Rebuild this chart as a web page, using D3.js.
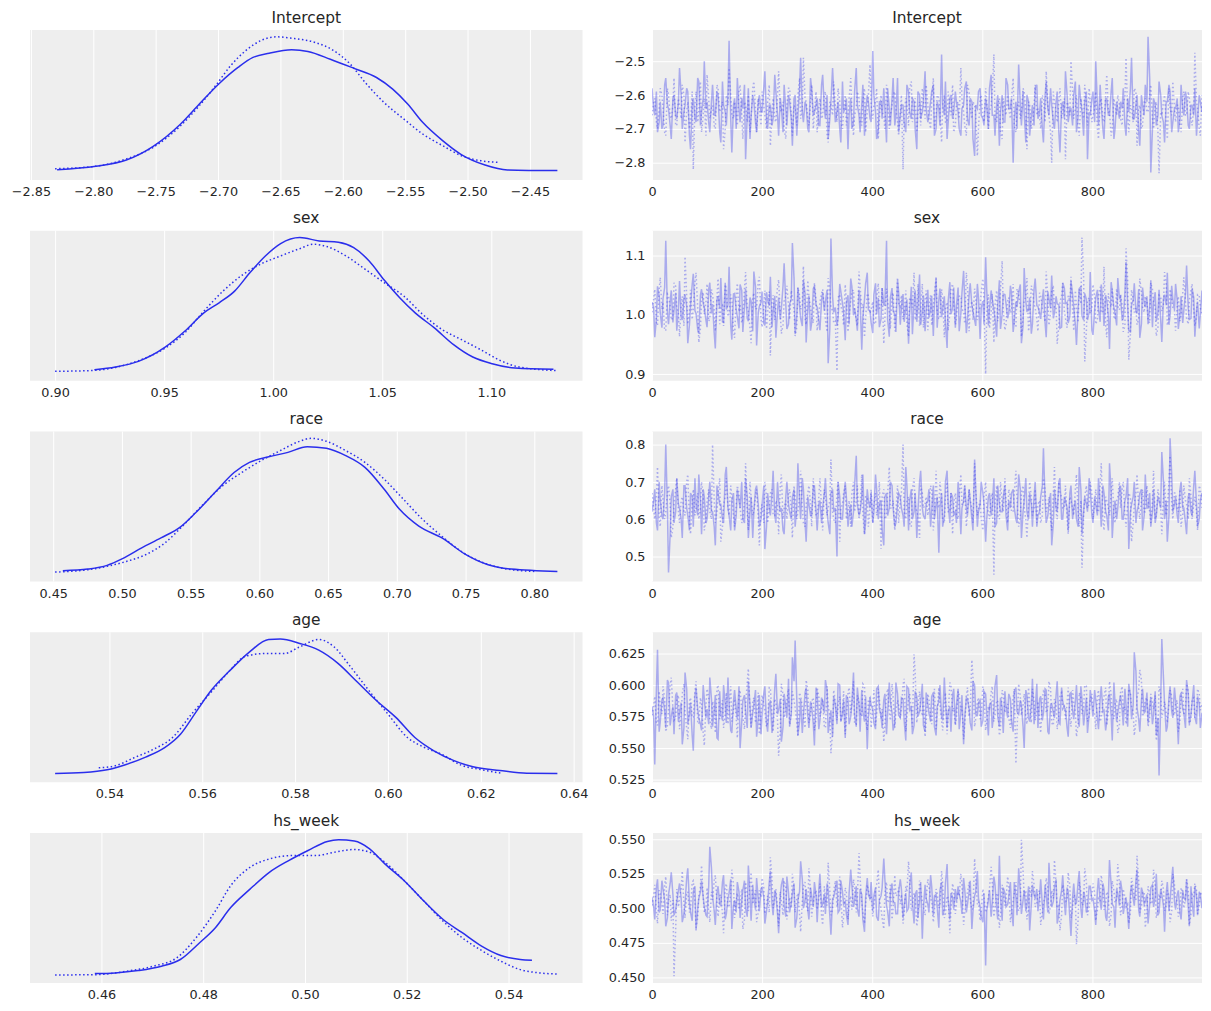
<!DOCTYPE html>
<html><head><meta charset="utf-8">
<script src="https://cdn.jsdelivr.net/npm/d3@7"></script>
<style>body{margin:0;background:#fff}text{font-family:"DejaVu Sans",sans-serif}</style>
</head><body><svg id="c" width="1211" height="1011"></svg>
<script>
// ---------- KDE curves (x value, relative density) ----------
const interceptKdeX0 = [-2.829,-2.798,-2.7735,-2.752,-2.730,-2.715,-2.699,-2.684,-2.672,-2.659,-2.641,-2.628,-2.610,-2.591,-2.573,-2.560,-2.548,-2.536,-2.520,-2.505,-2.486,-2.468,-2.428];
const interceptKdeY0 = [0.026,0.051,0.097,0.198,0.363,0.510,0.662,0.780,0.854,0.885,0.910,0.898,0.841,0.773,0.706,0.620,0.510,0.375,0.240,0.137,0.060,0.024,0.019];
const interceptKdeX1 = [-2.8306,-2.798,-2.7735,-2.752,-2.730,-2.715,-2.702,-2.690,-2.678,-2.665,-2.653,-2.641,-2.622,-2.607,-2.594,-2.582,-2.567,-2.551,-2.536,-2.520,-2.505,-2.4895,-2.4747];
const interceptKdeY1 = [0.033,0.051,0.105,0.191,0.350,0.498,0.645,0.792,0.903,0.981,1.006,0.996,0.964,0.903,0.804,0.669,0.522,0.399,0.289,0.203,0.129,0.092,0.080];

const sexKdeX0 = [0.918,0.9277,0.9382,0.9506,0.9594,0.9682,0.9752,0.9823,0.9893,0.9964,1.0034,1.0122,1.0211,1.0299,1.0369,1.044,1.051,1.058,1.0651,1.0739,1.0827,1.0915,1.1004,1.1109,1.1285];
const sexKdeY0 = [0.031,0.051,0.092,0.198,0.313,0.448,0.522,0.608,0.743,0.866,0.957,1.001,0.976,0.966,0.927,0.829,0.687,0.559,0.448,0.338,0.215,0.124,0.075,0.043,0.034];
const sexKdeX1 = [0.90,0.918,0.9277,0.9382,0.9506,0.9594,0.9682,0.977,0.9858,0.9946,1.0034,1.0122,1.0184,1.0246,1.0334,1.0422,1.051,1.0599,1.0686,1.0774,1.0863,1.0951,1.1039,1.1127,1.1303];
const sexKdeY1 = [0.019,0.026,0.048,0.097,0.191,0.301,0.461,0.608,0.726,0.809,0.866,0.920,0.952,0.935,0.866,0.768,0.669,0.571,0.436,0.326,0.252,0.178,0.100,0.051,0.024];

const raceKdeX0 = [0.457,0.4752,0.4892,0.5004,0.5144,0.5284,0.5424,0.5536,0.5676,0.5816,0.5928,0.6068,0.6208,0.6348,0.6488,0.6628,0.6768,0.6908,0.702,0.716,0.7328,0.7496,0.7664,0.7832,0.8168];
const raceKdeY0 = [0.029,0.041,0.068,0.117,0.196,0.269,0.348,0.453,0.601,0.748,0.822,0.863,0.895,0.937,0.925,0.871,0.785,0.625,0.478,0.355,0.269,0.151,0.073,0.041,0.024];
const raceKdeX1 = [0.4514,0.4752,0.4892,0.5032,0.5172,0.5312,0.5452,0.5592,0.5732,0.5872,0.6012,0.6152,0.6292,0.6376,0.6488,0.6628,0.6768,0.6908,0.7048,0.7188,0.7328,0.7468,0.7636,0.7804,0.80];
const raceKdeY1 = [0.019,0.036,0.061,0.097,0.146,0.232,0.367,0.515,0.650,0.748,0.834,0.908,0.976,0.998,0.976,0.908,0.822,0.699,0.552,0.404,0.281,0.171,0.085,0.041,0.024];

const ageKdeX0 = [0.5283,0.5345,0.5395,0.5436,0.5478,0.5519,0.5553,0.5586,0.5619,0.566,0.5702,0.5743,0.5768,0.581,0.5851,0.5893,0.5934,0.5975,0.6017,0.6058,0.61,0.6141,0.6183,0.6241,0.6299,0.6365];
const ageKdeY0 = [0.014,0.021,0.041,0.080,0.134,0.203,0.301,0.461,0.620,0.768,0.903,0.993,0.996,0.964,0.915,0.817,0.682,0.547,0.424,0.277,0.178,0.110,0.063,0.036,0.016,0.014];
const ageKdeX1 = [0.5377,0.5412,0.5453,0.5495,0.5536,0.5577,0.5619,0.566,0.5693,0.5735,0.5776,0.581,0.5851,0.5884,0.5917,0.5959,0.60,0.6042,0.6075,0.6116,0.6158,0.6199,0.6245];
const ageKdeY1 = [0.056,0.070,0.129,0.191,0.277,0.448,0.608,0.768,0.871,0.890,0.890,0.939,0.993,0.939,0.804,0.620,0.448,0.277,0.210,0.154,0.075,0.043,0.016];

const hsweekKdeX0 = [0.4587,0.4627,0.4672,0.4718,0.4755,0.4793,0.4824,0.4854,0.4892,0.493,0.4968,0.5006,0.5044,0.5066,0.5097,0.5127,0.5157,0.5195,0.5233,0.5271,0.5309,0.5347,0.5385,0.5423,0.5446];
const hsweekKdeY0 = [0.019,0.024,0.041,0.073,0.122,0.245,0.355,0.502,0.637,0.760,0.846,0.920,0.986,0.998,0.989,0.932,0.822,0.699,0.552,0.417,0.318,0.220,0.151,0.122,0.117];
const hsweekKdeX1 = [0.4509,0.4589,0.4649,0.4702,0.4748,0.4786,0.4824,0.4854,0.4892,0.493,0.4975,0.5021,0.5059,0.5097,0.5127,0.5157,0.5195,0.5233,0.5271,0.5309,0.5347,0.5385,0.5423,0.5461,0.5496];
const hsweekKdeY1 = [0.009,0.011,0.036,0.073,0.134,0.281,0.478,0.662,0.797,0.858,0.883,0.883,0.908,0.927,0.908,0.834,0.699,0.552,0.404,0.281,0.188,0.110,0.048,0.024,0.016];

// ---------- Trace samples: "A" = even sub-draws, "B" = the sub-draws in between (200 each per chain) ----------
const interceptChain0A = [
-2.58,-2.66,-2.71,-2.62,-2.69,-2.55,-2.64,-2.73,-2.60,-2.67,
-2.52,-2.70,-2.63,-2.59,-2.76,-2.61,-2.68,-2.56,-2.65,-2.50,
-2.62,-2.71,-2.57,-2.66,-2.60,-2.74,-2.63,-2.69,-2.44,-2.77,
-2.61,-2.55,-2.68,-2.64,-2.79,-2.58,-2.66,-2.62,-2.71,-2.60,
-2.65,-2.53,-2.70,-2.63,-2.67,-2.59,-2.72,-2.64,-2.57,-2.69,
-2.62,-2.75,-2.60,-2.66,-2.49,-2.68,-2.63,-2.71,-2.58,-2.65,
-2.61,-2.69,-2.54,-2.67,-2.73,-2.62,-2.59,-2.65,-2.70,-2.56,
-2.64,-2.76,-2.61,-2.68,-2.52,-2.66,-2.63,-2.72,-2.60,-2.67,
-2.47,-2.65,-2.70,-2.62,-2.58,-2.74,-2.64,-2.61,-2.69,-2.55,
-2.66,-2.63,-2.71,-2.59,-2.67,-2.62,-2.76,-2.60,-2.65,-2.53,
-2.68,-2.62,-2.57,-2.70,-2.64,-2.48,-2.66,-2.73,-2.61,-2.67,
-2.59,-2.65,-2.72,-2.63,-2.56,-2.69,-2.62,-2.78,-2.64,-2.58,
-2.67,-2.61,-2.70,-2.54,-2.66,-2.63,-2.75,-2.60,-2.68,-2.57,
-2.64,-2.80,-2.62,-2.51,-2.69,-2.65,-2.60,-2.72,-2.63,-2.58,
-2.67,-2.61,-2.74,-2.56,-2.66,-2.63,-2.70,-2.59,-2.77,-2.62,
-2.53,-2.68,-2.64,-2.60,-2.71,-2.57,-2.65,-2.62,-2.79,-2.66,
-2.59,-2.50,-2.69,-2.63,-2.73,-2.61,-2.66,-2.55,-2.70,-2.64,
-2.62,-2.58,-2.72,-2.65,-2.49,-2.67,-2.60,-2.75,-2.63,-2.57,
-2.428,-2.829,-2.61,-2.69,-2.56,-2.66,-2.74,-2.62,-2.59,-2.68,
-2.64,-2.71,-2.57,-2.66,-2.61,-2.70,-2.63,-2.58,-2.67,-2.62];
const interceptChain0B = [
-2.64,-2.59,-2.68,-2.70,-2.57,-2.63,-2.69,-2.61,-2.66,-2.62,
-2.60,-2.65,-2.58,-2.72,-2.63,-2.67,-2.55,-2.69,-2.61,-2.64,
-2.68,-2.62,-2.66,-2.59,-2.71,-2.56,-2.65,-2.60,-2.67,-2.63,
-2.70,-2.64,-2.61,-2.57,-2.66,-2.73,-2.60,-2.68,-2.62,-2.65,
-2.58,-2.67,-2.63,-2.69,-2.54,-2.66,-2.61,-2.71,-2.64,-2.60,
-2.67,-2.61,-2.72,-2.58,-2.65,-2.62,-2.70,-2.55,-2.66,-2.63,
-2.69,-2.57,-2.64,-2.60,-2.67,-2.52,-2.68,-2.62,-2.74,-2.65,
-2.61,-2.66,-2.70,-2.59,-2.63,-2.71,-2.57,-2.65,-2.62,-2.68,
-2.60,-2.73,-2.62,-2.67,-2.64,-2.58,-2.69,-2.55,-2.66,-2.71,
-2.63,-2.68,-2.57,-2.65,-2.61,-2.70,-2.59,-2.67,-2.62,-2.64,
-2.66,-2.59,-2.72,-2.62,-2.69,-2.63,-2.56,-2.68,-2.60,-2.65,
-2.62,-2.70,-2.64,-2.58,-2.67,-2.61,-2.73,-2.63,-2.59,-2.66,
-2.69,-2.63,-2.58,-2.66,-2.72,-2.60,-2.65,-2.68,-2.55,-2.64,
-2.61,-2.67,-2.70,-2.63,-2.59,-2.74,-2.62,-2.66,-2.69,-2.57,
-2.65,-2.70,-2.60,-2.64,-2.58,-2.68,-2.62,-2.71,-2.63,-2.67,
-2.60,-2.64,-2.69,-2.56,-2.66,-2.62,-2.72,-2.59,-2.65,-2.61,
-2.68,-2.63,-2.57,-2.70,-2.61,-2.66,-2.59,-2.73,-2.62,-2.67,
-2.64,-2.69,-2.61,-2.58,-2.67,-2.63,-2.71,-2.60,-2.66,-2.62,
-2.55,-2.70,-2.63,-2.66,-2.60,-2.68,-2.62,-2.57,-2.71,-2.64,
-2.61,-2.67,-2.64,-2.59,-2.69,-2.63,-2.66,-2.72,-2.60,-2.65];
const interceptChain1A = [
-2.66,-2.61,-2.70,-2.58,-2.64,-2.72,-2.60,-2.67,-2.55,-2.69,
-2.63,-2.57,-2.74,-2.62,-2.68,-2.82,-2.59,-2.65,-2.71,-2.61,
-2.54,-2.67,-2.63,-2.70,-2.58,-2.64,-2.76,-2.60,-2.52,-2.66,
-2.62,-2.69,-2.57,-2.73,-2.63,-2.60,-2.67,-2.56,-2.71,-2.64,
-2.59,-2.66,-2.62,-2.75,-2.61,-2.68,-2.53,-2.65,-2.70,-2.63,
-2.58,-2.72,-2.64,-2.60,-2.67,-2.49,-2.62,-2.69,-2.57,-2.65,
-2.71,-2.61,-2.66,-2.59,-2.74,-2.63,-2.56,-2.68,-2.62,-2.70,
-2.60,-2.66,-2.55,-2.72,-2.64,-2.61,-2.69,-2.58,-2.65,-2.51,
-2.67,-2.62,-2.73,-2.60,-2.66,-2.57,-2.70,-2.63,-2.59,-2.68,
-2.65,-2.82,-2.61,-2.69,-2.56,-2.64,-2.71,-2.62,-2.58,-2.67,
-2.63,-2.70,-2.55,-2.66,-2.61,-2.74,-2.60,-2.68,-2.64,-2.57,
-2.69,-2.62,-2.52,-2.65,-2.72,-2.59,-2.67,-2.63,-2.78,-2.61,
-2.66,-2.58,-2.70,-2.63,-2.48,-2.68,-2.61,-2.73,-2.64,-2.60,
-2.67,-2.55,-2.71,-2.62,-2.65,-2.59,-2.76,-2.63,-2.69,-2.57,
-2.64,-2.70,-2.61,-2.53,-2.66,-2.80,-2.62,-2.68,-2.58,-2.65,
-2.79,-2.63,-2.50,-2.67,-2.60,-2.72,-2.64,-2.57,-2.69,-2.62,
-2.66,-2.59,-2.73,-2.61,-2.68,-2.54,-2.65,-2.70,-2.63,-2.60,
-2.67,-2.62,-2.49,-2.71,-2.64,-2.58,-2.75,-2.63,-2.69,-2.61,
-2.65,-2.57,-2.70,-2.62,-2.831,-2.66,-2.60,-2.73,-2.64,-2.56,
-2.68,-2.63,-2.71,-2.59,-2.66,-2.61,-2.69,-2.475,-2.64,-2.72];
const interceptChain1B = [
-2.62,-2.68,-2.64,-2.60,-2.71,-2.58,-2.66,-2.63,-2.69,-2.61,
-2.67,-2.60,-2.65,-2.70,-2.59,-2.63,-2.68,-2.56,-2.66,-2.72,
-2.61,-2.64,-2.69,-2.57,-2.65,-2.62,-2.70,-2.63,-2.60,-2.67,
-2.65,-2.59,-2.66,-2.62,-2.68,-2.71,-2.58,-2.64,-2.61,-2.69,
-2.63,-2.70,-2.57,-2.65,-2.67,-2.60,-2.64,-2.62,-2.73,-2.58,
-2.66,-2.63,-2.69,-2.55,-2.64,-2.61,-2.67,-2.62,-2.70,-2.59,
-2.64,-2.67,-2.60,-2.72,-2.62,-2.66,-2.63,-2.58,-2.68,-2.65,
-2.69,-2.61,-2.64,-2.66,-2.59,-2.68,-2.62,-2.71,-2.60,-2.63,
-2.63,-2.58,-2.67,-2.65,-2.70,-2.62,-2.66,-2.60,-2.64,-2.72,
-2.60,-2.66,-2.63,-2.58,-2.68,-2.61,-2.65,-2.69,-2.62,-2.57,
-2.67,-2.62,-2.70,-2.60,-2.65,-2.63,-2.68,-2.59,-2.66,-2.71,
-2.63,-2.67,-2.61,-2.69,-2.57,-2.64,-2.62,-2.66,-2.70,-2.60,
-2.68,-2.62,-2.65,-2.59,-2.67,-2.63,-2.71,-2.61,-2.66,-2.64,
-2.61,-2.69,-2.64,-2.67,-2.58,-2.65,-2.62,-2.70,-2.63,-2.66,
-2.66,-2.60,-2.68,-2.63,-2.71,-2.59,-2.65,-2.62,-2.67,-2.61,
-2.62,-2.66,-2.59,-2.64,-2.69,-2.61,-2.67,-2.63,-2.58,-2.68,
-2.64,-2.70,-2.62,-2.67,-2.60,-2.65,-2.72,-2.61,-2.66,-2.63,
-2.69,-2.61,-2.66,-2.63,-2.68,-2.59,-2.64,-2.70,-2.62,-2.65,
-2.60,-2.67,-2.63,-2.71,-2.65,-2.62,-2.68,-2.58,-2.66,-2.64,
-2.63,-2.69,-2.61,-2.66,-2.59,-2.67,-2.64,-2.62,-2.70,-2.60];

const sexChain0A = [
1.021,0.962,1.048,1.003,1.027,1.125,0.984,1.041,1.008,0.973,
1.057,0.991,1.034,0.952,1.016,1.069,1.002,0.968,1.043,1.012,
0.979,1.054,1.018,0.943,1.031,1.062,0.987,1.009,1.081,0.958,
1.036,0.997,1.051,0.971,1.044,0.989,1.023,1.073,0.948,1.014,
1.039,0.982,1.025,1.064,1.006,0.961,1.029,1.011,1.087,0.976,
1.018,1.121,0.967,1.046,0.994,1.058,0.953,1.032,0.986,1.049,
1.013,0.974,1.038,1.022,0.918,1.1285,1.004,0.981,1.052,1.019,
0.957,1.033,1.061,0.999,0.992,1.042,0.941,1.026,1.071,1.007,
0.969,1.053,1.028,0.993,1.017,1.125,0.963,1.045,1.001,1.059,
0.983,1.035,1.012,0.951,1.047,1.021,0.988,1.068,1.005,0.972,
1.042,1.008,0.964,1.063,1.024,0.996,1.031,0.944,1.055,1.011,
0.978,1.046,1.002,1.074,0.969,1.033,1.016,0.991,1.052,0.959,
1.023,1.097,0.982,1.041,1.009,0.963,1.058,1.001,1.034,0.994,
1.049,0.971,1.022,1.038,0.952,1.079,1.006,1.029,0.984,1.061,
1.014,0.993,1.043,0.962,1.027,1.066,1.003,1.018,0.977,1.054,
1.019,0.986,1.057,1.012,0.949,1.044,0.998,1.036,0.991,1.072,
0.966,1.028,1.009,1.051,0.981,1.024,0.942,1.039,1.004,1.062,
1.031,0.994,1.089,0.973,1.017,1.053,1.002,0.961,1.046,1.013,
0.984,1.058,1.021,0.989,1.042,0.954,1.034,1.071,0.998,1.026,
1.052,0.976,1.031,1.008,1.083,0.992,1.044,0.963,1.022,1.001];
const sexChain0B = [
1.012,0.993,1.031,0.978,1.046,1.004,1.022,0.987,1.037,1.009,
0.996,1.028,1.014,0.983,1.051,1.007,0.975,1.033,1.019,0.991,
1.043,1.002,0.969,1.026,1.011,0.988,1.054,1.017,0.982,1.035,
1.008,0.977,1.041,1.013,0.994,1.029,0.972,1.047,1.003,1.021,
0.986,1.038,1.015,0.979,1.032,1.006,0.992,1.049,1.018,0.984,
1.027,1.061,0.998,1.014,0.981,1.036,1.009,0.973,1.044,1.016,
0.989,1.024,1.007,1.042,0.976,1.031,1.012,0.995,1.039,1.005,
1.019,0.984,1.048,1.011,0.973,1.027,0.996,1.052,1.008,0.987,
1.034,1.001,0.979,1.045,1.016,0.992,1.029,1.006,0.971,1.038,
1.011,0.988,1.026,1.003,0.967,1.041,1.014,0.983,1.033,1.007,
0.995,1.032,1.018,0.978,1.044,1.009,0.987,1.023,1.001,1.046,
1.015,0.972,1.037,1.024,0.991,1.053,1.006,0.981,1.029,1.012,
0.984,1.041,1.008,1.027,0.993,1.016,0.976,1.035,1.019,1.002,
1.036,0.989,1.013,1.051,0.982,1.022,1.007,0.968,1.043,1.015,
1.003,1.025,0.986,1.039,1.011,0.994,1.031,1.017,0.979,1.045,
1.021,0.998,1.034,0.983,1.012,1.047,0.991,1.026,1.004,0.974,
1.009,1.042,0.988,1.018,1.033,0.997,1.055,1.011,0.982,1.028,
0.992,1.036,1.014,0.971,1.024,1.006,1.043,0.985,1.019,1.031,
1.013,0.979,1.038,1.004,0.991,1.027,1.016,0.983,1.049,1.008,
1.024,1.001,0.986,1.035,1.012,0.994,1.029,1.007,0.977,1.041];
const sexChain1A = [
1.004,1.043,0.982,1.063,1.021,0.974,1.032,0.991,1.054,1.012,
0.963,1.031,1.098,0.984,1.042,1.009,1.071,0.953,1.024,1.001,
1.052,0.993,1.034,0.972,1.061,1.013,0.981,1.044,1.003,1.026,
0.961,1.053,1.018,0.994,1.072,1.006,0.952,1.037,1.011,1.064,
0.979,1.041,1.002,0.931,1.033,1.014,1.059,0.968,1.023,1.049,
0.992,1.027,0.964,1.046,1.009,1.082,0.983,1.031,0.997,1.054,
0.973,1.021,1.043,0.991,1.062,1.012,0.986,0.905,1.034,1.004,
1.051,0.971,1.024,1.042,0.993,1.073,1.011,0.962,1.036,1.002,
1.022,0.984,1.053,1.013,0.951,1.044,1.004,1.031,0.972,1.063,
1.014,0.992,1.041,0.963,1.024,1.071,1.002,0.981,1.052,1.023,
0.974,1.033,1.012,1.061,0.994,1.043,0.962,1.021,1.003,1.052,
0.983,1.024,1.032,1.006,1.071,0.972,1.023,1.044,0.991,1.013,
1.061,0.900,1.034,1.002,0.953,1.041,1.012,1.091,0.974,1.023,
1.003,1.052,0.981,1.034,0.963,1.024,1.062,0.993,1.043,1.011,
0.972,1.031,1.004,1.073,0.982,1.042,1.013,0.951,1.021,1.053,
0.994,1.032,1.064,0.973,1.012,1.043,1.1303,0.921,1.024,1.002,
1.051,0.984,1.033,1.003,1.081,0.962,1.022,1.044,0.992,1.014,
1.034,0.971,1.112,0.924,1.042,1.004,0.983,1.061,1.013,1.031,
0.991,1.054,1.021,0.964,1.033,1.006,1.072,0.982,1.043,1.012,
0.973,1.031,1.002,1.063,0.994,1.024,1.052,0.981,1.034,1.011];
const sexChain1B = [
1.026,0.987,1.041,1.009,0.973,1.035,1.014,0.996,1.048,1.003,
1.017,0.981,1.032,1.006,0.992,1.054,1.011,0.977,1.038,1.021,
0.989,1.043,1.008,1.029,0.984,1.016,1.051,0.997,1.034,0.972,
1.031,1.005,0.986,1.044,1.013,0.978,1.027,1.009,1.056,0.993,
1.012,0.976,1.039,1.022,0.991,1.047,1.003,0.983,1.031,1.015,
1.041,1.008,0.979,1.033,1.017,0.994,1.058,1.012,0.986,1.025,
1.002,1.036,1.014,0.971,1.044,1.007,0.989,1.029,1.015,0.982,
1.023,0.995,1.039,1.006,0.981,1.047,1.018,0.993,1.032,1.009,
0.987,1.028,1.011,1.046,0.994,1.021,0.976,1.037,1.004,1.019,
1.033,1.003,0.984,1.029,1.012,0.991,1.052,1.008,0.978,1.041,
1.014,0.982,1.037,1.005,0.993,1.026,1.011,0.973,1.043,1.017,
0.996,1.031,1.009,0.985,1.048,1.013,0.991,1.027,1.004,1.039,
1.021,1.004,0.977,1.035,1.016,0.989,1.042,1.007,0.983,1.029,
1.008,0.981,1.044,1.013,0.996,1.031,0.972,1.049,1.018,0.993,
1.037,1.011,0.988,1.025,1.003,1.046,1.014,0.982,1.033,1.006,
0.978,1.022,1.009,1.041,0.987,1.018,1.063,0.974,1.029,1.012,
1.031,0.992,1.047,1.006,0.983,1.036,1.013,0.997,1.044,1.008,
1.016,0.981,1.059,0.968,1.027,1.011,0.994,1.038,1.004,1.022,
0.986,1.043,1.012,0.979,1.031,1.018,1.051,0.993,1.026,1.007,
1.014,0.989,1.036,1.021,0.984,1.041,1.009,0.996,1.033,1.002];

const raceChain0A = [
0.62,0.68,0.57,0.65,0.60,0.80,0.457,0.66,0.59,0.71,
0.63,0.55,0.69,0.61,0.67,0.58,0.64,0.72,0.56,0.66,
0.60,0.70,0.62,0.53,0.67,0.64,0.59,0.74,0.61,0.65,
0.57,0.68,0.63,0.60,0.71,0.55,0.66,0.62,0.69,0.58,
0.64,0.52,0.67,0.61,0.73,0.59,0.65,0.63,0.56,0.70,
0.62,0.66,0.58,0.75,0.60,0.68,0.54,0.64,0.61,0.69,
0.57,0.65,0.63,0.71,0.59,0.67,0.62,0.50,0.66,0.60,
0.70,0.58,0.64,0.62,0.77,0.61,0.66,0.56,0.68,0.63,
0.59,0.72,0.60,0.65,0.53,0.67,0.63,0.69,0.58,0.64,
0.66,0.61,0.74,0.57,0.68,0.62,0.55,0.70,0.63,0.60,
0.65,0.58,0.69,0.64,0.51,0.67,0.61,0.73,0.59,0.66,
0.62,0.70,0.56,0.65,0.63,0.68,0.60,0.76,0.58,0.64,
0.67,0.54,0.66,0.61,0.71,0.59,0.64,0.62,0.69,0.57,
0.63,0.68,0.60,0.72,0.55,0.65,0.62,0.67,0.58,0.70,
0.61,0.66,0.79,0.59,0.64,0.53,0.68,0.62,0.71,0.60,
0.65,0.57,0.69,0.63,0.60,0.74,0.56,0.66,0.62,0.68,
0.59,0.64,0.71,0.58,0.67,0.61,0.75,0.55,0.65,0.63,
0.69,0.60,0.66,0.52,0.64,0.70,0.62,0.67,0.57,0.72,
0.63,0.58,0.68,0.61,0.65,0.78,0.60,0.54,0.8168,0.62,
0.66,0.59,0.70,0.63,0.56,0.67,0.61,0.73,0.58,0.65];
const raceChain0B = [
0.65,0.59,0.70,0.61,0.67,0.63,0.56,0.68,0.62,0.64,
0.60,0.69,0.63,0.57,0.66,0.71,0.61,0.65,0.68,0.59,
0.66,0.62,0.58,0.69,0.64,0.60,0.72,0.63,0.57,0.67,
0.61,0.65,0.70,0.59,0.66,0.62,0.55,0.68,0.64,0.60,
0.69,0.58,0.63,0.67,0.61,0.70,0.62,0.57,0.66,0.64,
0.60,0.68,0.63,0.65,0.71,0.59,0.66,0.61,0.69,0.62,
0.64,0.59,0.67,0.62,0.56,0.68,0.63,0.70,0.60,0.65,
0.66,0.61,0.58,0.69,0.64,0.62,0.72,0.59,0.65,0.67,
0.62,0.68,0.64,0.57,0.66,0.61,0.70,0.63,0.59,0.67,
0.63,0.58,0.69,0.65,0.60,0.67,0.62,0.73,0.61,0.64,
0.68,0.62,0.60,0.66,0.63,0.58,0.70,0.64,0.67,0.61,
0.59,0.66,0.63,0.69,0.61,0.65,0.57,0.68,0.62,0.70,
0.64,0.60,0.67,0.63,0.58,0.69,0.62,0.66,0.61,0.65,
0.67,0.63,0.59,0.68,0.62,0.71,0.60,0.64,0.66,0.58,
0.62,0.69,0.65,0.61,0.67,0.59,0.63,0.70,0.60,0.66,
0.63,0.67,0.60,0.65,0.58,0.68,0.62,0.64,0.71,0.61,
0.66,0.61,0.64,0.69,0.62,0.57,0.67,0.63,0.60,0.68,
0.60,0.65,0.71,0.62,0.66,0.59,0.64,0.68,0.61,0.63,
0.67,0.62,0.59,0.66,0.63,0.70,0.65,0.61,0.72,0.64,
0.61,0.68,0.63,0.59,0.66,0.62,0.69,0.64,0.60,0.67];
const raceChain1A = [
0.67,0.60,0.74,0.58,0.65,0.62,0.69,0.55,0.64,0.71,
0.59,0.66,0.61,0.72,0.56,0.68,0.63,0.60,0.70,0.57,
0.65,0.62,0.80,0.59,0.67,0.54,0.64,0.71,0.61,0.66,
0.58,0.69,0.63,0.60,0.75,0.57,0.66,0.62,0.68,0.53,
0.64,0.70,0.59,0.67,0.61,0.65,0.56,0.72,0.63,0.60,
0.68,0.55,0.66,0.62,0.73,0.59,0.64,0.69,0.58,0.65,
0.61,0.71,0.57,0.66,0.63,0.76,0.60,0.67,0.54,0.64,
0.69,0.62,0.58,0.70,0.65,0.60,0.72,0.56,0.66,0.63,
0.59,0.67,0.64,0.52,0.68,0.61,0.74,0.63,0.57,0.69,
0.65,0.80,0.60,0.66,0.58,0.71,0.62,0.55,0.67,0.64,
0.61,0.69,0.57,0.73,0.63,0.66,0.59,0.70,0.62,0.56,
0.67,0.60,0.72,0.64,0.58,0.68,0.63,0.75,0.61,0.65,
0.57,0.70,0.62,0.66,0.4514,0.69,0.60,0.64,0.71,0.59,
0.66,0.62,0.73,0.58,0.67,0.63,0.55,0.70,0.61,0.68,
0.64,0.59,0.71,0.62,0.66,0.57,0.74,0.60,0.67,0.63,
0.69,0.56,0.65,0.61,0.72,0.58,0.47,0.66,0.63,0.70,
0.60,0.68,0.62,0.75,0.57,0.65,0.61,0.71,0.59,0.66,
0.63,0.70,0.58,0.67,0.54,0.64,0.72,0.60,0.68,0.62,
0.65,0.59,0.73,0.61,0.66,0.56,0.70,0.63,0.77,0.60,
0.67,0.62,0.58,0.69,0.64,0.71,0.60,0.66,0.57,0.68];
const raceChain1B = [
0.63,0.66,0.61,0.69,0.60,0.67,0.64,0.58,0.68,0.62,
0.65,0.62,0.70,0.59,0.64,0.61,0.67,0.63,0.66,0.60,
0.68,0.60,0.65,0.62,0.71,0.58,0.66,0.63,0.69,0.61,
0.64,0.67,0.59,0.65,0.62,0.70,0.61,0.66,0.60,0.63,
0.59,0.66,0.63,0.68,0.61,0.64,0.69,0.60,0.65,0.67,
0.62,0.69,0.60,0.66,0.63,0.58,0.67,0.64,0.71,0.61,
0.66,0.63,0.68,0.61,0.65,0.62,0.59,0.70,0.63,0.67,
0.60,0.65,0.67,0.62,0.69,0.63,0.61,0.66,0.58,0.68,
0.64,0.61,0.70,0.66,0.60,0.67,0.63,0.65,0.62,0.59,
0.67,0.62,0.65,0.59,0.68,0.64,0.61,0.69,0.63,0.66,
0.63,0.68,0.61,0.65,0.70,0.60,0.66,0.62,0.67,0.64,
0.61,0.66,0.64,0.69,0.62,0.65,0.59,0.68,0.63,0.60,
0.66,0.63,0.60,0.67,0.64,0.61,0.70,0.62,0.65,0.68,
0.62,0.67,0.65,0.61,0.69,0.60,0.64,0.66,0.63,0.59,
0.65,0.61,0.68,0.64,0.60,0.67,0.62,0.70,0.66,0.63,
0.60,0.66,0.63,0.68,0.62,0.65,0.61,0.69,0.64,0.67,
0.64,0.62,0.69,0.60,0.66,0.63,0.67,0.61,0.65,0.70,
0.68,0.61,0.64,0.66,0.59,0.67,0.63,0.65,0.62,0.69,
0.62,0.65,0.60,0.68,0.63,0.66,0.61,0.70,0.64,0.67,
0.63,0.68,0.61,0.65,0.60,0.66,0.64,0.62,0.69,0.63];

const ageChain0A = [
0.583,0.537,0.628,0.571,0.590,0.566,0.602,0.575,0.561,0.594,
0.578,0.553,0.610,0.569,0.586,0.548,0.598,0.574,0.564,0.589,
0.581,0.606,0.567,0.592,0.557,0.577,0.600,0.570,0.585,0.562,
0.596,0.573,0.550,0.588,0.579,0.603,0.566,0.584,0.559,0.592,
0.576,0.599,0.563,0.587,0.571,0.609,0.580,0.555,0.593,0.574,
0.568,0.622,0.6353,0.560,0.589,0.576,0.598,0.566,0.583,0.552,
0.594,0.572,0.587,0.604,0.562,0.580,0.591,0.569,0.600,0.577,
0.558,0.588,0.575,0.610,0.567,0.584,0.596,0.571,0.549,0.590,
0.581,0.565,0.599,0.576,0.588,0.561,0.602,0.578,0.570,0.593,
0.574,0.589,0.556,0.597,0.582,0.568,0.591,0.579,0.601,0.563,
0.585,0.571,0.594,0.560,0.587,0.575,0.606,0.566,0.583,0.592,
0.569,0.597,0.578,0.553,0.590,0.581,0.564,0.600,0.576,0.588,
0.572,0.593,0.560,0.586,0.579,0.608,0.567,0.582,0.595,0.574,
0.589,0.563,0.598,0.577,0.584,0.550,0.592,0.571,0.605,0.580,
0.566,0.591,0.578,0.596,0.561,0.585,0.574,0.603,0.569,0.587,
0.581,0.559,0.594,0.573,0.600,0.567,0.589,0.577,0.562,0.596,
0.575,0.588,0.565,0.599,0.580,0.571,0.593,0.556,0.586,0.578,
0.592,0.568,0.584,0.601,0.573,0.626,0.582,0.563,0.597,0.579,
0.570,0.590,0.576,0.560,0.5283,0.6365,0.585,0.567,0.599,0.574,
0.588,0.553,0.594,0.578,0.604,0.569,0.586,0.575,0.591,0.566];
const ageChain0B = [
0.575,0.596,0.563,0.588,0.579,0.604,0.568,0.583,0.592,0.571,
0.586,0.566,0.597,0.577,0.560,0.591,0.581,0.569,0.600,0.574,
0.569,0.589,0.580,0.558,0.595,0.572,0.585,0.606,0.564,0.587,
0.581,0.599,0.571,0.592,0.566,0.584,0.578,0.596,0.574,0.561,
0.593,0.570,0.586,0.562,0.598,0.577,0.589,0.567,0.583,0.605,
0.577,0.603,0.589,0.571,0.562,0.594,0.576,0.587,0.569,0.598,
0.565,0.590,0.578,0.596,0.573,0.559,0.584,0.601,0.571,0.588,
0.592,0.569,0.585,0.576,0.598,0.563,0.579,0.591,0.574,0.584,
0.570,0.597,0.581,0.566,0.593,0.578,0.587,0.564,0.602,0.576,
0.590,0.572,0.599,0.580,0.561,0.595,0.575,0.586,0.568,0.594,
0.578,0.591,0.567,0.583,0.600,0.572,0.588,0.579,0.563,0.597,
0.584,0.565,0.592,0.574,0.589,0.570,0.603,0.577,0.586,0.567,
0.595,0.578,0.584,0.566,0.599,0.575,0.590,0.562,0.583,0.593,
0.571,0.594,0.579,0.588,0.567,0.596,0.574,0.585,0.569,0.601,
0.589,0.572,0.597,0.563,0.584,0.578,0.592,0.570,0.598,0.581,
0.566,0.593,0.580,0.587,0.573,0.599,0.568,0.590,0.577,0.584,
0.596,0.574,0.589,0.579,0.564,0.591,0.576,0.602,0.571,0.587,
0.580,0.597,0.567,0.592,0.584,0.611,0.573,0.588,0.578,0.594,
0.583,0.569,0.595,0.574,0.586,0.606,0.563,0.590,0.579,0.598,
0.572,0.591,0.581,0.566,0.593,0.577,0.600,0.569,0.585,0.578];
const ageChain1A = [
0.576,0.591,0.568,0.584,0.599,0.563,0.580,0.606,0.572,0.588,
0.565,0.593,0.578,0.557,0.590,0.574,0.603,0.569,0.585,0.552,
0.597,0.573,0.587,0.562,0.600,0.579,0.566,0.594,0.581,0.571,
0.589,0.558,0.596,0.575,0.584,0.613,0.567,0.590,0.577,0.561,
0.592,0.580,0.570,0.598,0.563,0.586,0.544,0.601,0.574,0.589,
0.567,0.595,0.582,0.559,0.591,0.576,0.604,0.570,0.587,0.564,
0.598,0.575,0.589,0.566,0.583,0.546,0.596,0.572,0.591,0.579,
0.561,0.594,0.578,0.603,0.569,0.586,0.575,0.599,0.564,0.590,
0.582,0.568,0.597,0.573,0.555,0.592,0.579,0.601,0.566,0.588,
0.574,0.600,0.563,0.590,0.581,0.6245,0.570,0.595,0.577,0.559,
0.593,0.576,0.588,0.565,0.598,0.572,0.585,0.561,0.602,0.579,
0.568,0.595,0.580,0.557,0.591,0.575,0.620,0.567,0.587,0.573,
0.599,0.564,0.583,0.594,0.571,0.588,0.560,0.596,0.578,0.585,
0.566,0.590,0.5377,0.601,0.576,0.593,0.569,0.584,0.597,0.572,
0.587,0.562,0.595,0.578,0.603,0.570,0.589,0.565,0.592,0.581,
0.573,0.598,0.567,0.586,0.559,0.594,0.577,0.600,0.571,0.588,
0.580,0.565,0.596,0.574,0.591,0.568,0.603,0.576,0.585,0.562,
0.594,0.579,0.569,0.597,0.583,0.560,0.590,0.612,0.575,0.588,
0.567,0.593,0.581,0.556,0.599,0.574,0.587,0.570,0.596,0.578,
0.585,0.563,0.592,0.576,0.601,0.568,0.589,0.574,0.597,0.580];
const ageChain1B = [
0.583,0.570,0.595,0.577,0.589,0.568,0.600,0.581,0.574,0.592,
0.578,0.601,0.566,0.587,0.575,0.596,0.571,0.590,0.562,0.584,
0.590,0.565,0.582,0.597,0.573,0.588,0.577,0.569,0.599,0.580,
0.574,0.593,0.581,0.565,0.602,0.579,0.587,0.570,0.594,0.576,
0.585,0.567,0.598,0.576,0.589,0.572,0.563,0.592,0.580,0.597,
0.579,0.588,0.570,0.594,0.583,0.566,0.596,0.577,0.590,0.573,
0.591,0.581,0.567,0.599,0.576,0.562,0.587,0.584,0.571,0.595,
0.573,0.598,0.585,0.569,0.592,0.578,0.601,0.574,0.588,0.566,
0.596,0.576,0.589,0.581,0.568,0.597,0.572,0.590,0.579,0.584,
0.582,0.605,0.574,0.593,0.567,0.610,0.583,0.578,0.591,0.571,
0.589,0.569,0.597,0.578,0.585,0.564,0.594,0.576,0.600,0.582,
0.575,0.592,0.583,0.568,0.598,0.581,0.606,0.573,0.590,0.577,
0.594,0.571,0.580,0.599,0.576,0.587,0.566,0.593,0.582,0.574,
0.580,0.597,0.563,0.591,0.584,0.575,0.598,0.570,0.588,0.579,
0.572,0.589,0.593,0.581,0.597,0.568,0.585,0.576,0.594,0.583,
0.586,0.574,0.596,0.579,0.569,0.590,0.582,0.599,0.575,0.593,
0.577,0.591,0.571,0.586,0.598,0.580,0.592,0.573,0.589,0.568,
0.599,0.583,0.575,0.594,0.579,0.571,0.596,0.604,0.582,0.590,
0.574,0.587,0.592,0.566,0.593,0.581,0.578,0.585,0.591,0.576,
0.588,0.572,0.597,0.583,0.595,0.574,0.590,0.579,0.593,0.585];

const hsweekChain0A = [
0.508,0.492,0.521,0.499,0.514,0.487,0.510,0.526,0.495,0.505,
0.518,0.490,0.503,0.529,0.497,0.512,0.484,0.507,0.520,0.501,
0.494,0.5446,0.509,0.488,0.516,0.502,0.524,0.496,0.511,0.485,
0.506,0.519,0.493,0.513,0.500,0.531,0.491,0.508,0.522,0.498,
0.515,0.489,0.504,0.527,0.495,0.510,0.482,0.517,0.502,0.523,
0.497,0.511,0.486,0.506,0.534,0.500,0.514,0.492,0.509,0.519,
0.490,0.525,0.503,0.496,0.513,0.481,0.508,0.520,0.499,0.512,
0.505,0.488,0.528,0.501,0.516,0.494,0.510,0.483,0.522,0.507,
0.498,0.515,0.491,0.509,0.536,0.502,0.487,0.518,0.504,0.496,
0.521,0.493,0.511,0.500,0.526,0.489,0.513,0.506,0.478,0.517,
0.503,0.524,0.495,0.510,0.486,0.519,0.499,0.532,0.492,0.508,
0.514,0.516,0.505,0.522,0.497,0.512,0.485,0.509,0.527,0.501,
0.490,0.4587,0.506,0.494,0.523,0.500,0.538,0.491,0.511,0.503,
0.519,0.487,0.508,0.529,0.496,0.513,0.502,0.484,0.517,0.507,
0.498,0.521,0.492,0.510,0.533,0.501,0.515,0.489,0.506,0.524,
0.495,0.512,0.480,0.518,0.504,0.527,0.493,0.509,0.500,0.516,
0.507,0.488,0.522,0.499,0.514,0.491,0.535,0.503,0.486,0.511,
0.520,0.496,0.508,0.485,0.517,0.502,0.528,0.494,0.512,0.505,
0.489,0.515,0.501,0.525,0.497,0.510,0.483,0.519,0.506,0.530,
0.499,0.513,0.492,0.508,0.521,0.487,0.504,0.516,0.495,0.510];
const hsweekChain0B = [
0.501,0.515,0.497,0.520,0.506,0.493,0.518,0.510,0.499,0.513,
0.507,0.496,0.522,0.504,0.491,0.516,0.500,0.512,0.508,0.495,
0.516,0.529,0.498,0.511,0.503,0.519,0.492,0.507,0.521,0.502,
0.497,0.512,0.505,0.520,0.494,0.510,0.517,0.499,0.506,0.514,
0.508,0.498,0.519,0.503,0.513,0.496,0.509,0.522,0.494,0.511,
0.504,0.518,0.493,0.512,0.521,0.506,0.499,0.515,0.501,0.509,
0.513,0.501,0.510,0.518,0.495,0.507,0.514,0.497,0.520,0.503,
0.496,0.511,0.517,0.505,0.500,0.514,0.492,0.508,0.510,0.519,
0.509,0.494,0.506,0.515,0.521,0.498,0.511,0.504,0.496,0.512,
0.514,0.502,0.498,0.517,0.505,0.510,0.493,0.519,0.500,0.507,
0.497,0.516,0.509,0.501,0.513,0.495,0.518,0.506,0.511,0.499,
0.505,0.510,0.496,0.514,0.503,0.520,0.498,0.512,0.507,0.494,
0.511,0.498,0.513,0.504,0.517,0.492,0.509,0.515,0.501,0.508,
0.500,0.519,0.495,0.512,0.506,0.498,0.516,0.503,0.510,0.514,
0.509,0.502,0.517,0.497,0.511,0.505,0.521,0.496,0.513,0.504,
0.515,0.493,0.508,0.503,0.519,0.500,0.512,0.497,0.516,0.506,
0.498,0.513,0.505,0.518,0.494,0.509,0.517,0.501,0.514,0.502,
0.512,0.504,0.496,0.511,0.507,0.520,0.499,0.515,0.503,0.510,
0.503,0.517,0.508,0.495,0.514,0.502,0.511,0.498,0.521,0.505,
0.510,0.497,0.513,0.506,0.501,0.516,0.494,0.509,0.512,0.500];
const hsweekChain1A = [
0.502,0.517,0.489,0.511,0.496,0.523,0.505,0.491,0.4509,0.514,
0.508,0.527,0.493,0.512,0.499,0.520,0.486,0.509,0.531,0.497,
0.515,0.490,0.506,0.524,0.494,0.510,0.482,0.518,0.501,0.528,
0.493,0.511,0.504,0.485,0.519,0.498,0.526,0.507,0.490,0.513,
0.522,0.496,0.509,0.537,0.500,0.514,0.487,0.505,0.520,0.492,
0.508,0.525,0.497,0.511,0.483,0.516,0.503,0.529,0.494,0.510,
0.499,0.518,0.488,0.506,0.533,0.495,0.512,0.501,0.523,0.486,
0.515,0.492,0.509,0.521,0.497,0.540,0.504,0.489,0.517,0.507,
0.494,0.513,0.528,0.500,0.485,0.519,0.506,0.492,0.524,0.510,
0.503,0.489,0.516,0.534,0.498,0.511,0.487,0.520,0.505,0.495,
0.521,0.507,0.490,0.514,0.500,0.527,0.493,0.509,0.482,0.518,
0.496,0.512,0.525,0.488,0.506,0.519,0.499,0.536,0.503,0.491,
0.514,0.497,0.508,0.530,0.494,0.511,0.486,0.517,0.502,0.523,
0.490,0.506,0.519,0.498,0.5496,0.509,0.492,0.515,0.527,0.501,
0.511,0.488,0.504,0.522,0.496,0.513,0.535,0.500,0.484,0.517,
0.505,0.526,0.493,0.510,0.474,0.519,0.502,0.529,0.495,0.508,
0.518,0.491,0.507,0.524,0.499,0.512,0.487,0.520,0.504,0.532,
0.495,0.514,0.501,0.489,0.522,0.508,0.538,0.497,0.511,0.486,
0.516,0.503,0.528,0.493,0.509,0.520,0.498,0.513,0.490,0.525,
0.507,0.494,0.515,0.500,0.521,0.488,0.510,0.518,0.496,0.512];
const hsweekChain1B = [
0.509,0.498,0.513,0.503,0.517,0.495,0.510,0.506,0.485,0.501,
0.514,0.502,0.510,0.497,0.519,0.505,0.493,0.516,0.508,0.500,
0.498,0.512,0.520,0.504,0.509,0.496,0.515,0.501,0.511,0.517,
0.506,0.499,0.514,0.492,0.510,0.518,0.503,0.513,0.497,0.508,
0.515,0.503,0.497,0.521,0.507,0.500,0.512,0.495,0.516,0.502,
0.500,0.514,0.508,0.496,0.505,0.519,0.498,0.511,0.504,0.513,
0.507,0.495,0.516,0.502,0.512,0.499,0.520,0.506,0.510,0.494,
0.512,0.504,0.499,0.515,0.508,0.522,0.497,0.503,0.513,0.509,
0.501,0.517,0.506,0.493,0.511,0.504,0.518,0.500,0.509,0.515,
0.510,0.496,0.512,0.520,0.503,0.508,0.494,0.514,0.501,0.507,
0.516,0.505,0.498,0.511,0.502,0.518,0.496,0.507,0.499,0.513,
0.503,0.509,0.517,0.497,0.512,0.506,0.500,0.521,0.505,0.498,
0.508,0.501,0.514,0.519,0.500,0.510,0.495,0.512,0.506,0.516,
0.497,0.511,0.506,0.502,0.527,0.513,0.499,0.508,0.517,0.504,
0.513,0.497,0.509,0.515,0.502,0.507,0.518,0.503,0.495,0.511,
0.506,0.516,0.500,0.508,0.492,0.512,0.504,0.519,0.501,0.510,
0.511,0.499,0.505,0.514,0.503,0.509,0.496,0.513,0.507,0.518,
0.502,0.508,0.503,0.497,0.515,0.506,0.520,0.501,0.512,0.498,
0.510,0.505,0.516,0.500,0.507,0.514,0.502,0.509,0.498,0.517,
0.505,0.500,0.511,0.507,0.514,0.496,0.508,0.513,0.502,0.509];

// ---------- Tick values ----------
const interceptKdeTicks = [-2.85,-2.80,-2.75,-2.70,-2.65,-2.60,-2.55,-2.50,-2.45];
const sexKdeTicks = [0.90,0.95,1.00,1.05,1.10];
const raceKdeTicks = [0.45,0.50,0.55,0.60,0.65,0.70,0.75,0.80];
const ageKdeTicks = [0.54,0.56,0.58,0.60,0.62,0.64];
const hsweekKdeTicks = [0.46,0.48,0.50,0.52,0.54];
const interceptTraceTicks = [-2.8,-2.7,-2.6,-2.5];
const sexTraceTicks = [0.9,1.0,1.1];
const raceTraceTicks = [0.5,0.6,0.7,0.8];
const ageTraceTicks = [0.525,0.550,0.575,0.600,0.625];
const hsweekTraceTicks = [0.450,0.475,0.500,0.525,0.550];
const drawTicks = [0,200,400,600,800];
const varNames = ["Intercept","sex","race","age","hs_week"];

// interleave the two typed sub-series of a chain into draw order
const chain = (a, b) => d3.merge(d3.zip(a, b));

const panels = [
 {kx0:interceptKdeX0,ky0:interceptKdeY0,kx1:interceptKdeX1,ky1:interceptKdeY1,c0:chain(interceptChain0A,interceptChain0B),c1:chain(interceptChain1A,interceptChain1B),kt:interceptKdeTicks,kf:".2f",tt:interceptTraceTicks,tf:".1f"},
 {kx0:sexKdeX0,ky0:sexKdeY0,kx1:sexKdeX1,ky1:sexKdeY1,c0:chain(sexChain0A,sexChain0B),c1:chain(sexChain1A,sexChain1B),kt:sexKdeTicks,kf:".2f",tt:sexTraceTicks,tf:".1f"},
 {kx0:raceKdeX0,ky0:raceKdeY0,kx1:raceKdeX1,ky1:raceKdeY1,c0:chain(raceChain0A,raceChain0B),c1:chain(raceChain1A,raceChain1B),kt:raceKdeTicks,kf:".2f",tt:raceTraceTicks,tf:".1f"},
 {kx0:ageKdeX0,ky0:ageKdeY0,kx1:ageKdeX1,ky1:ageKdeY1,c0:chain(ageChain0A,ageChain0B),c1:chain(ageChain1A,ageChain1B),kt:ageKdeTicks,kf:".2f",tt:ageTraceTicks,tf:".3f"},
 {kx0:hsweekKdeX0,ky0:hsweekKdeY0,kx1:hsweekKdeX1,ky1:hsweekKdeY1,c0:chain(hsweekChain0A,hsweekChain0B),c1:chain(hsweekChain1A,hsweekChain1B),kt:hsweekKdeTicks,kf:".2f",tt:hsweekTraceTicks,tf:".3f"}
];

// ---------- Drawing ----------
const svg = d3.select("#c");
const COLOR = "#2a2eec", FACE = "#eeeeee", TXT = "#262626";
const TICK_FS = "12.8px", TITLE_FS = "15.4px";
const L0 = 30, L1 = 582.5, R0 = 652, R1 = 1202, AX_H = 150;
const fmtMinus = f => v => d3.format(f)(v).replace("-", "\u2212");

function styleAxis(g){
  g.select(".domain").remove();
  g.selectAll(".tick line").remove();
  g.selectAll("text").attr("fill", TXT).style("font-size", TICK_FS).style("font-family", '"DejaVu Sans", sans-serif');
}
function styleGrid(g){
  g.select(".domain").remove();
  g.selectAll(".tick line").attr("stroke", "#ffffff").attr("stroke-width", 1);
}

panels.forEach((p, r) => {
  const top = 30 + r * 200.75, bot = top + AX_H;
  const clipL = "clipL" + r, clipR = "clipR" + r;
  const defs = svg.append("defs");
  defs.append("clipPath").attr("id", clipL).append("rect").attr("x", L0).attr("y", top).attr("width", L1 - L0).attr("height", AX_H);
  defs.append("clipPath").attr("id", clipR).append("rect").attr("x", R0).attr("y", top).attr("width", R1 - R0).attr("height", AX_H);

  // ----- left: KDE -----
  const ext = d3.extent(p.kx0.concat(p.kx1)), xr = ext[1] - ext[0];
  const xk = d3.scaleLinear().domain([ext[0] - 0.05 * xr, ext[1] + 0.05 * xr]).range([L0, L1]);
  const M = d3.max(p.ky0.concat(p.ky1));
  const yk = d3.scaleLinear().domain([-0.05 * M, 1.05 * M]).range([bot, top]);
  svg.append("rect").attr("x", L0).attr("y", top).attr("width", L1 - L0).attr("height", AX_H).attr("fill", FACE);
  svg.append("g").attr("transform", `translate(0,${top})`)
    .call(d3.axisBottom(xk).tickValues(p.kt).tickSize(AX_H).tickFormat("")).call(styleGrid);
  svg.append("g").attr("transform", `translate(0,${bot})`)
    .call(d3.axisBottom(xk).tickValues(p.kt).tickSize(0).tickPadding(7).tickFormat(fmtMinus(p.kf)))
    .call(styleAxis);
  const kline = xs => d3.line().x((d, i) => xk(xs[i])).y(d => yk(d)).curve(d3.curveMonotoneX);
  const gl = svg.append("g").attr("clip-path", `url(#${clipL})`);
  gl.append("path").attr("d", kline(p.kx0)(p.ky0)).attr("fill", "none").attr("stroke", COLOR).attr("stroke-width", 1.5);
  gl.append("path").attr("d", kline(p.kx1)(p.ky1)).attr("fill", "none").attr("stroke", COLOR).attr("stroke-width", 1.5).attr("stroke-dasharray", "1.5,2.5");
  svg.append("text").attr("x", (L0 + L1) / 2).attr("y", top - 7.5).attr("text-anchor", "middle").attr("fill", TXT).style("font-size", TITLE_FS).text(varNames[r]);

  // ----- right: trace -----
  const n = p.c0.length;
  const draws = d3.range(n).map(i => Math.round(i * 999 / (n - 1)));
  const xt = d3.scaleLinear().domain([0, 999]).range([R0, R1]);
  const yext = d3.extent(p.c0.concat(p.c1)), yr = yext[1] - yext[0];
  const yt = d3.scaleLinear().domain([yext[0] - 0.05 * yr, yext[1] + 0.05 * yr]).range([bot, top]);
  svg.append("rect").attr("x", R0).attr("y", top).attr("width", R1 - R0).attr("height", AX_H).attr("fill", FACE);
  svg.append("g").attr("transform", `translate(0,${top})`)
    .call(d3.axisBottom(xt).tickValues(drawTicks).tickSize(AX_H).tickFormat("")).call(styleGrid);
  svg.append("g").attr("transform", `translate(${R0},0)`)
    .call(d3.axisLeft(yt).tickValues(p.tt).tickSize(-(R1 - R0)).tickFormat("")).call(styleGrid);
  svg.append("g").attr("transform", `translate(0,${bot})`)
    .call(d3.axisBottom(xt).tickValues(drawTicks).tickSize(0).tickPadding(7).tickFormat(d3.format("d")))
    .call(styleAxis);
  svg.append("g").attr("transform", `translate(${R0},0)`)
    .call(d3.axisLeft(yt).tickValues(p.tt).tickSize(0).tickPadding(6.5).tickFormat(fmtMinus(p.tf)))
    .call(styleAxis);
  const tline = d3.line().x((d, i) => xt(draws[i])).y(d => yt(d));
  const gr = svg.append("g").attr("clip-path", `url(#${clipR})`);
  gr.append("path").attr("d", tline(p.c0)).attr("fill", "none").attr("stroke", COLOR).attr("stroke-opacity", 0.35).attr("stroke-width", 1.5);
  gr.append("path").attr("d", tline(p.c1)).attr("fill", "none").attr("stroke", COLOR).attr("stroke-opacity", 0.35).attr("stroke-width", 1.5).attr("stroke-dasharray", "1.5,2.5");
  svg.append("text").attr("x", (R0 + R1) / 2).attr("y", top - 7.5).attr("text-anchor", "middle").attr("fill", TXT).style("font-size", TITLE_FS).text(varNames[r]);
});
</script></body></html>
